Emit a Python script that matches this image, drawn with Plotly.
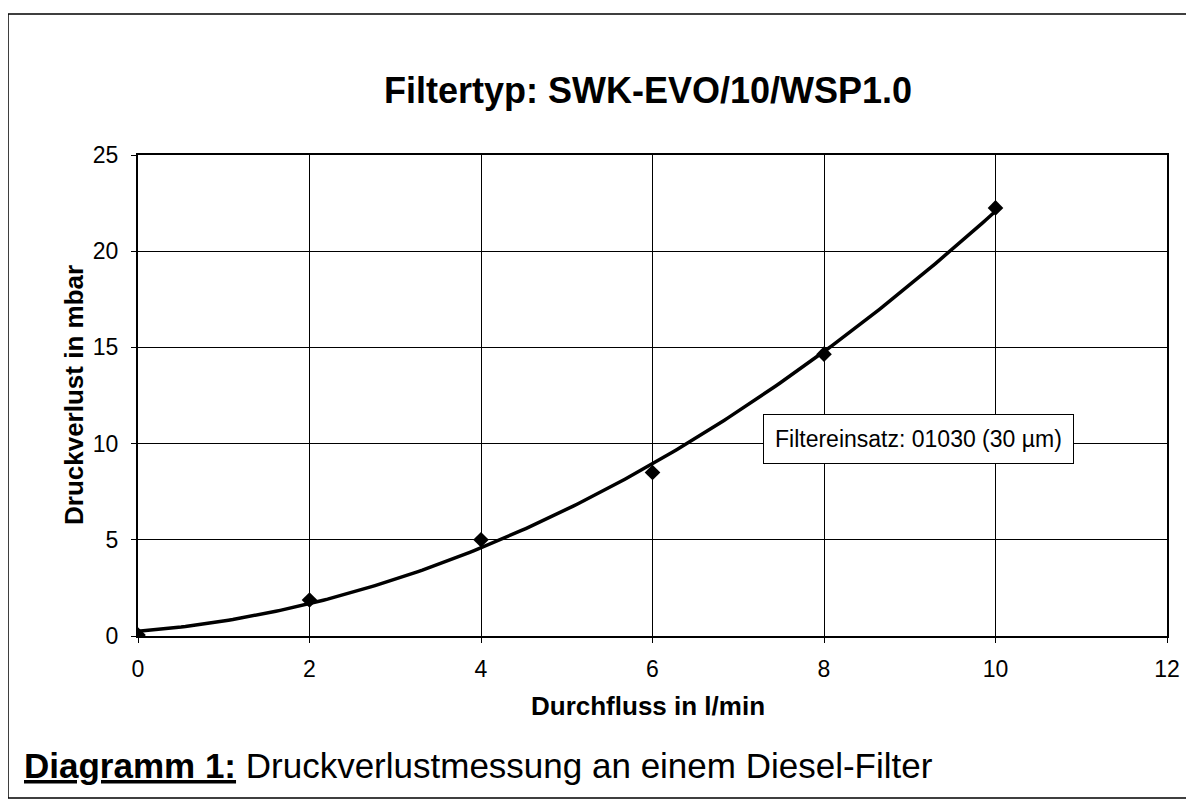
import numpy as np
import plotly.graph_objects as go

# Data
flow = [0, 2, 4, 6, 8, 10]                       # l/min
pressure = [0.05, 1.87, 5.0, 8.5, 14.65, 22.25]  # mbar
x_ticks = [0, 2, 4, 6, 8, 10, 12]
y_ticks = [0, 5, 10, 15, 20, 25]

# Excel-style 2nd order polynomial trendline computed from the measured data
coef = np.polyfit(flow, pressure, 2)
x_fit = np.linspace(min(flow), max(flow), 200)
y_fit = np.polyval(coef, x_fit)

FONT = "Arial, Liberation Sans, Helvetica, sans-serif"

fig = go.Figure()
fig.add_trace(go.Scatter(x=x_fit, y=y_fit, mode="lines",
                         line=dict(color="black", width=3.5),
                         hoverinfo="skip", showlegend=False))
fig.add_trace(go.Scatter(x=flow, y=pressure, mode="markers",
                         marker=dict(symbol="diamond", size=12, color="black"),
                         showlegend=False))

# page body has an 8px margin -> work in reference pixels minus 8
OFF = 8
W, H = 1194 - OFF, 808 - OFF
plot_left, plot_right, plot_top, plot_bottom = 138, 1167, 155, 636
L = plot_left - OFF
T = plot_top - OFF
R = W - (plot_right - OFF)
B = H - (plot_bottom - OFF)
pw, ph = W - L - R, H - T - B

def px(xp):  # reference pixel x -> paper
    return (xp - OFF - L) / pw

def py(yp):  # reference pixel y -> paper
    return (H - B - (yp - OFF)) / ph

fig.update_layout(
    width=W, height=H,
    margin=dict(l=L, r=R, t=T, b=B),
    paper_bgcolor="white", plot_bgcolor="white",
    font=dict(family=FONT, color="black"),
    title=dict(text="<b>Filtertyp: SWK-EVO/10/WSP1.0</b>",
               x=(648 - OFF) / W, xanchor="center", y=1 - (90 - OFF) / H, yanchor="middle",
               font=dict(size=36, family=FONT, color="black")),
    xaxis=dict(range=[0, 12], tickvals=x_ticks, showgrid=True,
               gridcolor="black", gridwidth=1, zeroline=False,
               showline=True, linecolor="black", linewidth=2, mirror=True,
               ticks="outside", ticklen=5, tickcolor="black",
               ticklabelstandoff=6,
               tickfont=dict(size=23, family=FONT, color="black")),
    yaxis=dict(range=[0, 25], tickvals=y_ticks, showgrid=True,
               gridcolor="black", gridwidth=1, zeroline=False,
               showline=True, linecolor="black", linewidth=2, mirror=True,
               ticks="outside", ticklen=5, tickcolor="black",
               ticklabelstandoff=8,
               tickfont=dict(size=23, family=FONT, color="black")),
    annotations=[
        dict(text="<b>Durchfluss in l/min</b>", xref="paper", yref="paper",
             x=px(647.5), y=py(706), xanchor="center", yanchor="middle",
             showarrow=False, font=dict(size=26, family=FONT, color="black")),
        dict(text="<b>Druckverlust in mbar</b>", xref="paper", yref="paper",
             x=px(74), y=py(395), xanchor="center", yanchor="middle",
             textangle=-90, showarrow=False,
             font=dict(size=26, family=FONT, color="black")),
        dict(text="Filtereinsatz: 01030 (30 µm)", xref="x", yref="y",
             x=9.1, y=10.24, xanchor="center", yanchor="middle",
             showarrow=False, bgcolor="white", bordercolor="black",
             borderwidth=1, borderpad=11,
             font=dict(size=23, family=FONT, color="black")),
        dict(text="<b><u>Diagramm 1:</u></b> Druckverlustmessung an einem Diesel-Filter",
             xref="paper", yref="paper", x=px(22), y=py(765),
             xanchor="left", yanchor="middle", showarrow=False,
             font=dict(size=35, family=FONT, color="black")),
    ],
    shapes=[
        dict(type="rect", xref="paper", yref="paper",
             x0=px(8), x1=px(1188), y0=py(798), y1=py(14),
             line=dict(color="black", width=1.5), layer="below"),
    ],
)

fig.write_html("out.html")
